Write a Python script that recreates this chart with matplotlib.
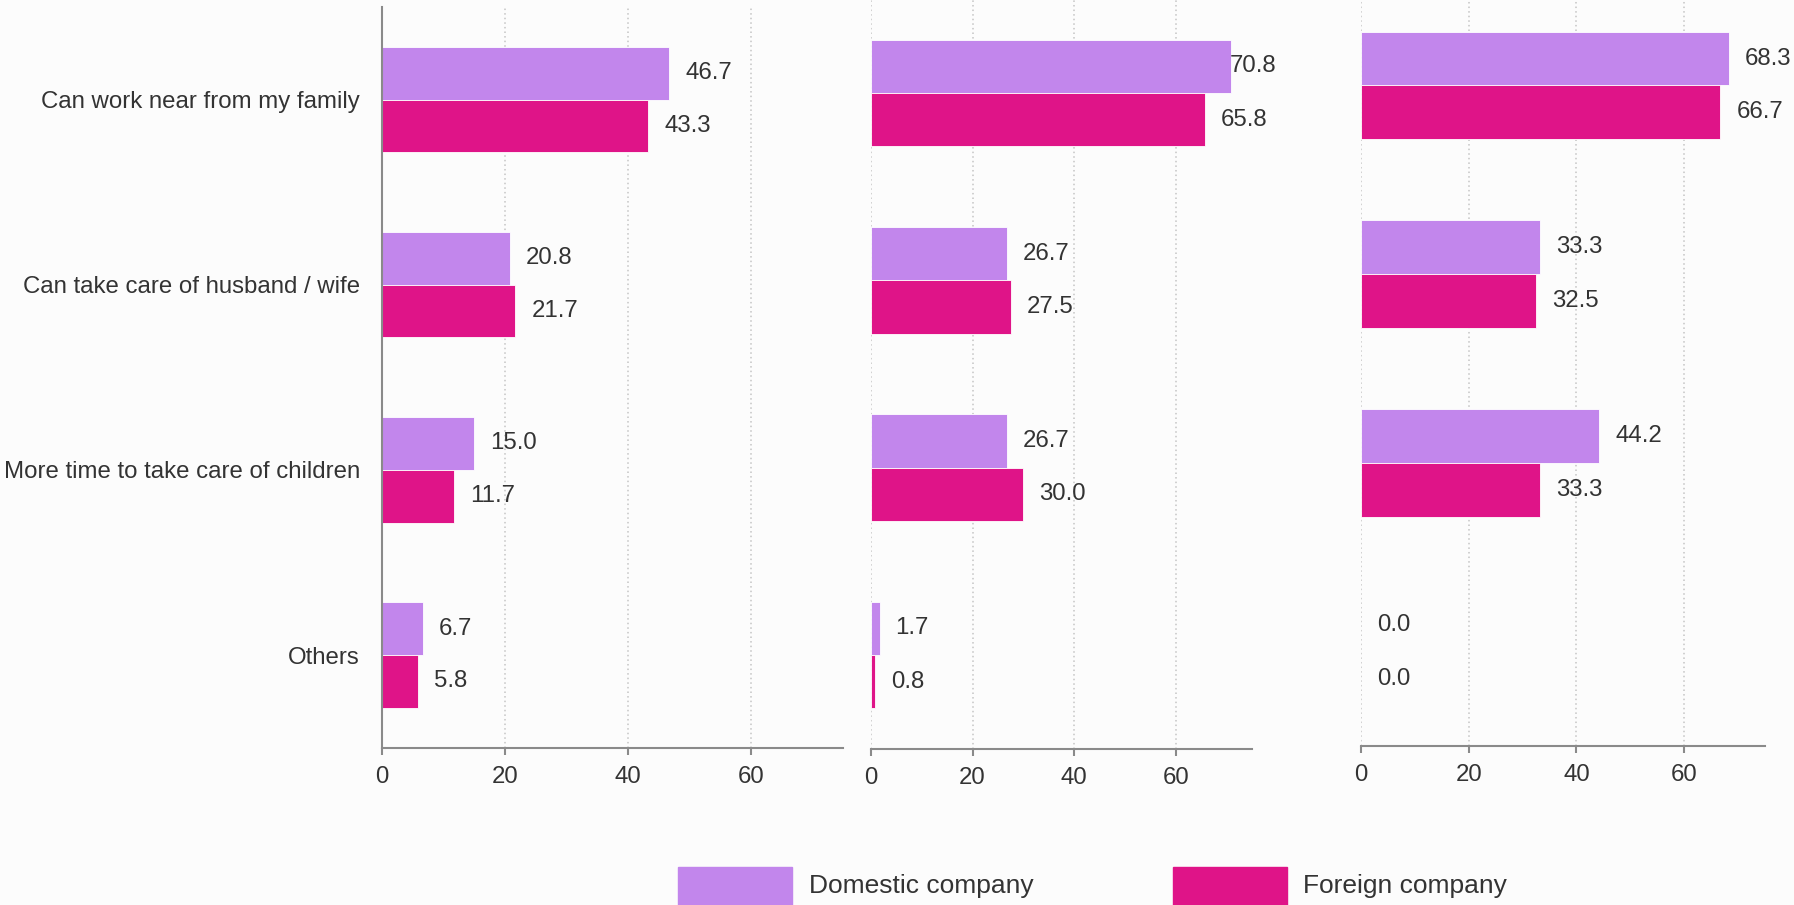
"""Reasons for choosing a job: domestic vs foreign company, three groups"""

import matplotlib

matplotlib.use("Agg")
import matplotlib.pyplot as plt
import numpy as np
from matplotlib.patches import Rectangle

CATEGORIES = [
    "Can work near from my family",
    "Can take care of husband / wife",
    "More time to take care of children",
    "Others",
]
SERIES = ["Domestic company", "Foreign company"]

# one list per panel, values in %
DOMESTIC_1 = [46.7, 20.8, 15.0, 6.7]
FOREIGN_1 = [43.3, 21.7, 11.7, 5.8]
DOMESTIC_2 = [70.8, 26.7, 26.7, 1.7]
FOREIGN_2 = [65.8, 27.5, 30.0, 0.8]
DOMESTIC_3 = [68.3, 33.3, 44.2, 0.0]
FOREIGN_3 = [66.7, 32.5, 33.3, 0.0]

X_TICKS = [0, 20, 40, 60]

COLORS = ["#C286EC", "#DF1488"]
TEXT = "#333333"
AXIS = "#8a8a8a"
FONT = ["Liberation Sans", "DejaVu Sans"]
FS = 17.3

W, H = 1794, 905
# panel boxes in pixels: left, right, top, bottom
PANELS = [
    (382, 843, 7, 747.6),
    (871, 1252, -0.7, 748.6),
    (1361, 1765, -8.9, 746.1),
]
# labels above this value sit flush on the bar end
LABEL_CAP = [None, 68.0, None]


def draw_panel(ax, domestic, foreign, show_labels, cap):
    y = np.arange(len(CATEGORIES))
    h = 0.285
    for vals, off, color in ((domestic, -h / 2, COLORS[0]), (foreign, h / 2, COLORS[1])):
        # zero-length bars get no edge so the grid line at 0 stays visible
        lw = [0.6 if v > 0 else 0 for v in vals]
        ax.barh(y + off, vals, height=h, color=color, edgecolor="white",
                linewidth=lw, zorder=2)
        for yy, v in zip(y + off, vals):
            dx = -1 if (cap is not None and v > cap) else 11.5
            ax.annotate(f"{v:.1f}", xy=(v, yy), xytext=(dx, 0),
                        textcoords="offset points", ha="left", va="center",
                        fontsize=FS, color=TEXT, zorder=3)

    ax.set_xlim(0, 75)
    ax.set_ylim(len(CATEGORIES) - 0.5, -0.5)
    ax.set_xticks(X_TICKS)
    ax.set_facecolor("none")
    ax.set_axisbelow(True)
    ax.xaxis.grid(True, linestyle=(0, (1, 2)), color="#c4c4c4", linewidth=1.1)

    for side in ("top", "right"):
        ax.spines[side].set_visible(False)
    ax.spines["bottom"].set_color(AXIS)
    ax.spines["bottom"].set_linewidth(1.5)
    ax.tick_params(axis="x", length=5, width=1.5, color=AXIS, labelsize=FS,
                   labelcolor=TEXT, pad=8)

    if show_labels:
        ax.spines["left"].set_color(AXIS)
        ax.spines["left"].set_linewidth(1.5)
        ax.set_yticks(y)
        ax.set_yticklabels(CATEGORIES)
        ax.tick_params(axis="y", length=0, labelsize=FS, labelcolor=TEXT, pad=16)
    else:
        ax.spines["left"].set_visible(False)
        ax.set_yticks([])


def draw_legend(fig):
    boxes = [(678, 809), (1173, 1303)]
    for (px, tx), name, color in zip(boxes, SERIES, COLORS):
        fig.add_artist(Rectangle((px / W, 0), 114 / W, 38 / H,
                                 transform=fig.transFigure, color=color))
        fig.text(tx / W, 1 - 886 / H, name, ha="left", va="center",
                 fontsize=19, color=TEXT)


def main() -> None:
    plt.rcParams["font.family"] = FONT
    fig = plt.figure(figsize=(W / 100, H / 100), dpi=100, facecolor="#fcfcfc")

    data = [(DOMESTIC_1, FOREIGN_1), (DOMESTIC_2, FOREIGN_2), (DOMESTIC_3, FOREIGN_3)]
    for i, ((l, r, t, b), (dom, fgn)) in enumerate(zip(PANELS, data)):
        ax = fig.add_axes([l / W, 1 - b / H, (r - l) / W, (b - t) / H])
        draw_panel(ax, dom, fgn, show_labels=(i == 0), cap=LABEL_CAP[i])

    draw_legend(fig)
    fig.savefig("out.png", dpi=100, facecolor=fig.get_facecolor())
    plt.close(fig)


if __name__ == "__main__":
    main()
